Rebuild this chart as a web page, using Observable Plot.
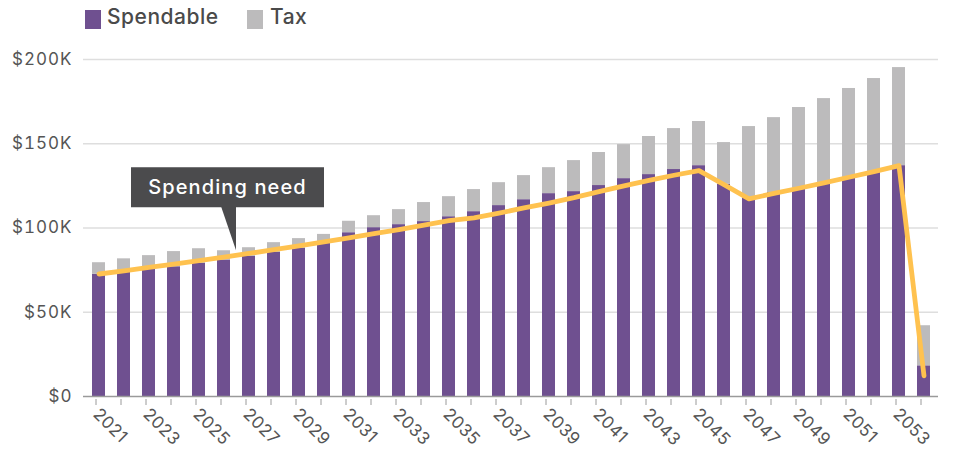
<!DOCTYPE html>
<html><head><meta charset="utf-8">
<script src="https://cdn.jsdelivr.net/npm/d3@7"></script>
<script src="https://cdn.jsdelivr.net/npm/@observablehq/plot@0.6"></script>
<style>
body{margin:0;background:#fff;font-family:Inter,"Open Sans",sans-serif;}
#legend{height:36px;position:relative;width:956px;}
.sw{position:absolute;top:10px;width:16px;height:19px;}
.lb{position:absolute;top:4px;font-size:21px;font-weight:500;letter-spacing:0.5px;line-height:26px;color:#4a4a4a;white-space:nowrap;}
</style></head><body>
<div id="legend">
  <div class="sw" style="left:85px;background:#6F5090"></div><div class="lb" style="left:107px">Spendable</div>
  <div class="sw" style="left:247px;background:#BCBBBC"></div><div class="lb" style="left:270px">Tax</div>
</div>
<div id="chart"></div>
<script>
const years = ["2021","2022","2023","2024","2025","2026","2027","2028","2029","2030","2031","2032","2033","2034","2035","2036","2037","2038","2039","2040","2041","2042","2043","2044","2045","2046","2047","2048","2049","2050","2051","2052","2053","2054"];
// values in $K
const spendable = [72.5,74.0,75.5,77.0,79.0,81.0,83.2,85.5,88.0,91.0,97.2,100.2,102.0,103.8,106.7,109.7,113.3,116.8,120.4,121.6,125.2,129.3,131.7,134.7,137.0,126.0,118.0,121.0,123.5,126.5,130.0,133.0,137.0,18.2];
const tax = [6.9,7.7,8.1,9.0,8.7,5.5,5.1,5.8,5.7,5.2,6.8,7.1,8.9,11.3,11.9,13.1,13.6,14.3,15.4,18.4,19.6,20.2,22.6,24.3,26.2,24.7,42.2,44.5,48.0,50.3,52.8,55.7,58.2,23.8];
const spendingNeed = [72.7,74.6,76.6,78.6,80.6,82.7,84.9,87.1,89.4,91.7,94.1,96.6,99.1,101.7,104.4,106.0,108.8,111.9,114.8,118.0,121.6,125.0,128.3,131.3,134.1,125.7,117.3,120.5,123.6,126.8,130.1,133.5,137.0,12.3];
const seriesNames = ["Spendable","Tax"];
const yTicks = [0,50,100,150,200];
const annotationText = "Spending need";

const rows = [
  ...years.map((year,i)=>({year, series:"Spendable", value:spendable[i]})),
  ...years.map((year,i)=>({year, series:"Tax", value:tax[i]}))
];
const need = years.map((year,i)=>({year, value:spendingNeed[i]}));

const chart = Plot.plot({
  width:956, height:414,
  marginLeft:83, marginRight:18, marginTop:23, marginBottom:54,
  style:{fontFamily:"Inter, 'Open Sans', sans-serif", fontSize:"16px", background:"#fff", overflow:"visible"},
  x:{type:"band", domain:years, paddingInner:0.5, paddingOuter:0.25, label:null},
  y:{domain:[0,200], label:null},
  color:{domain:seriesNames, range:["#6F5090","#BCBBBC"]},
  marks:[
    Plot.gridY(yTicks.filter(d=>d>0), {stroke:"#dedede", strokeOpacity:1, strokeWidth:1.5}),
    Plot.barY(rows, {x:"year", y:"value", fill:"series"}),
    Plot.ruleY([0], {stroke:"#9a9a9a", strokeWidth:1.5}),
    Plot.line(need, {x:"year", y:"value", stroke:"#FFC24F", strokeWidth:4.8, strokeLinejoin:"round", strokeLinecap:"round"}),
    Plot.axisY({ticks:yTicks, tickSize:0, tickPadding:11, tickFormat:d=>d===0?"$0":`$${d}K`, fontSize:17, fill:"#555"}),
    Plot.axisX({tickSize:6, tickRotate:45, tickFormat:d=>(+d)%2===1?d:"", stroke:"#9a9a9a", fill:"#555", fontSize:17, dx:-3, dy:3})
  ]
});
document.getElementById("chart").appendChild(chart);
d3.select(chart).selectAll('g[aria-label="y-axis tick label"] text').attr("letter-spacing","1px");
d3.select(chart).selectAll('g[aria-label="x-axis tick label"] text').attr("letter-spacing","0.5px");

// annotation callout
const xs = chart.scale("x"), ys = chart.scale("y");
const c26 = xs.apply("2026") + xs.bandwidth/2, c27 = xs.apply("2027") + xs.bandwidth/2;
const tipX = (c26+c27)/2, tipY = ys.apply(86.5);
const g = d3.select(chart).append("g");
g.append("rect").attr("x", tipX-105).attr("y", tipY-83).attr("width",193).attr("height",40).attr("fill","#4b4b4d");
g.append("path").attr("d", `M${tipX-15},${tipY-44}L${tipX},${tipY-44}L${tipX},${tipY}Z`).attr("fill","#4b4b4d");
g.append("text").attr("x", tipX-105+96.5).attr("y", tipY-83+27).attr("text-anchor","middle")
  .attr("fill","#fff").attr("font-size",20).attr("font-weight",500).attr("letter-spacing","1.1px").attr("font-family","Inter, sans-serif").text(annotationText);
</script>
</body></html>
